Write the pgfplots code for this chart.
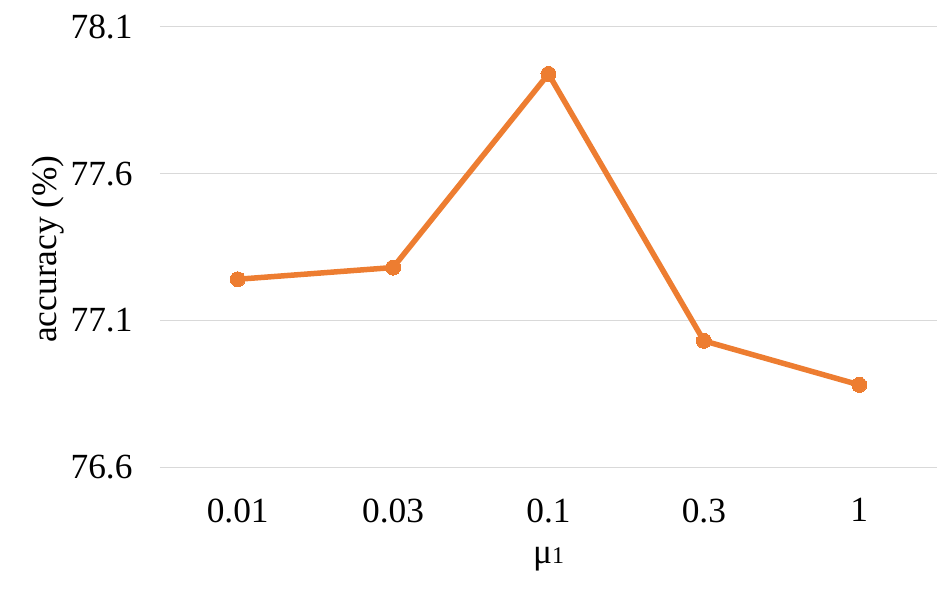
\documentclass[border=0pt]{standalone}
\usepackage{fontspec}
\setmainfont{Liberation Serif}
\usepackage{pgfplots}
\pgfplotsset{compat=1.18}
\definecolor{xlorange}{RGB}{237,125,49}
\definecolor{gridgray}{RGB}{217,217,217}
\begin{document}
\begin{tikzpicture}
\begin{axis}[
  scale only axis,
  width=777bp, height=440bp,
  xmin=-0.5, xmax=4.5,
  ymin=76.6, ymax=78.1,
  xtick={0,1,2,3,4},
  xticklabels={0.01,0.03,0.1,0.3,1},
  ytick={76.6,77.1,77.6,78.1},
  yticklabels={76.6,77.1,77.6,78.1},
  /pgf/number format/assume math mode=true,
  axis line style={draw=none},
  major tick length=0pt,
  ymajorgrids,
  grid style={gridgray, line width=1bp},
  tick label style={font=\fontsize{35.5}{38}\selectfont},
  yticklabel style={xshift=-24bp},
  xticklabel style={yshift=-28bp},
  label style={font=\fontsize{35.5}{38}\selectfont},
  ylabel={accuracy (\%)},
  xlabel={μ\raisebox{0pt}{\fontsize{24}{26}\selectfont 1}},
  every axis y label/.append style={at={(ticklabel cs:0.5)}},
  ylabel style={xshift=-2bp},
  xlabel style={yshift=-18bp},
  clip=false,
]
\addplot[xlorange, line width=5.5bp, mark=*, mark size=7.5bp, mark options={solid, fill=xlorange, draw=xlorange, line width=0pt}]
coordinates {(0,77.24) (1,77.28) (2,77.94) (3,77.03) (4,76.88)};
\end{axis}
\useasboundingbox (-160bp,-129bp) rectangle (792bp,467bp);
\end{tikzpicture}
\end{document}
